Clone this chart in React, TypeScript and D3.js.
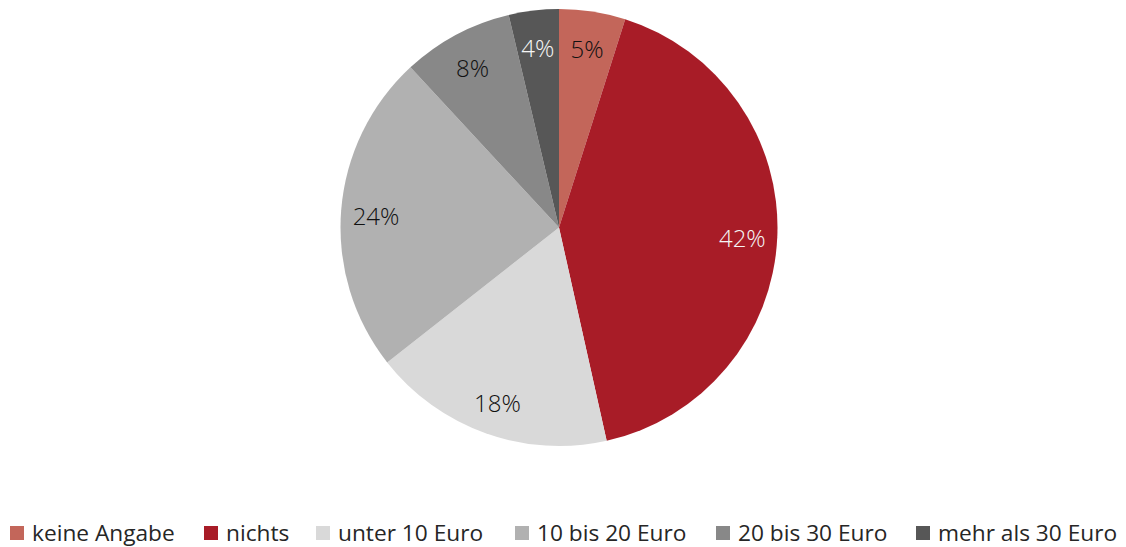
import React from "react";
import * as d3 from "d3";

const categories = ["keine Angabe", "nichts", "unter 10 Euro", "10 bis 20 Euro", "20 bis 30 Euro", "mehr als 30 Euro"];
const values = [4.9, 41.6, 17.9, 23.7, 8.2, 3.7];
const labels = ["5%", "42%", "18%", "24%", "8%", "4%"];
const colors = ["#C3665A", "#A81C27", "#D9D9D9", "#B1B1B1", "#888888", "#575757"];
const labelColors = ["#111", "#f5f5f5", "#111", "#111", "#111", "#f5f5f5"];
const legendX = [10, 204, 316, 515, 716, 916];

export default function App() {
  const W = 1126, H = 547;
  const cx = 559, cy = 227.5, r = 218.5;
  const pie = d3.pie<number>().sort(null).value((d) => d)(values);
  const arc = d3.arc<d3.PieArcDatum<number>>().innerRadius(0).outerRadius(r);
  const labelArc = d3.arc<d3.PieArcDatum<number>>().innerRadius(r * 0.84).outerRadius(r * 0.84);
  return (
    <svg width={W} height={H} style={{ position: "absolute", left: 0, top: 0 }}>
      <rect width={W} height={H} fill="#fff" />
      <g transform={`translate(${cx},${cy})`}>
        {pie.map((p, i) => (
          <path key={i} d={arc(p) || ""} fill={colors[i]} />
        ))}
        {pie.map((p, i) => {
          const [x, y] = labelArc.centroid(p);
          return (
            <text key={i} x={x} y={y + 3} dy="0.35em" textAnchor="middle" fontFamily="Open Sans" fontWeight={300} fontSize={24} fill={labelColors[i]}>
              {labels[i]}
            </text>
          );
        })}
      </g>
      <g>
        {categories.map((c, i) => (
          <g key={i} transform={`translate(${legendX[i]},526)`}>
            <rect x={0} y={0} width={14} height={14} fill={colors[i]} />
            <text x={22} y={15} fontFamily="Open Sans" fontSize={22.7} fill="#262626">{c}</text>
          </g>
        ))}
      </g>
    </svg>
  );
}
